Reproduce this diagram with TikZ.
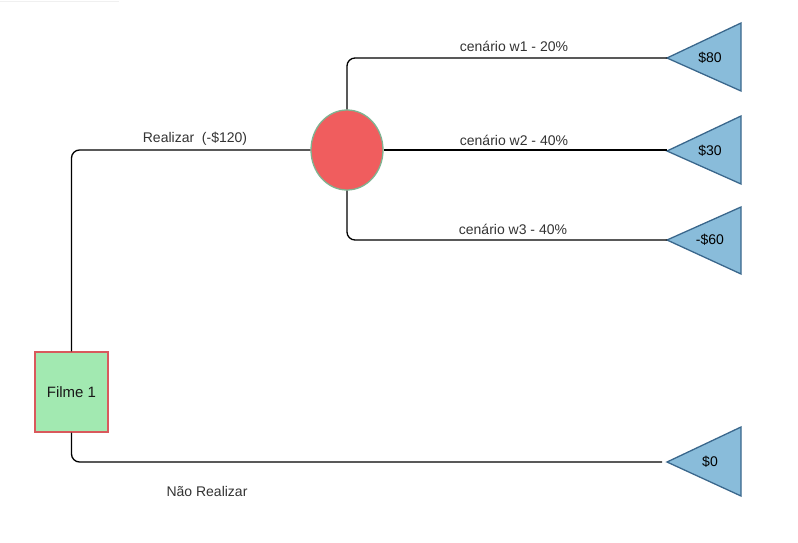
\documentclass[tikz,border=0pt]{standalone}
\usepackage{fontspec}
\setmainfont{Liberation Sans}
\usetikzlibrary{shapes.geometric}
\definecolor{sqfill}{HTML}{A2E9B1}
\definecolor{sqdraw}{HTML}{D9595C}
\definecolor{cifill}{HTML}{F05D5E}
\definecolor{cidraw}{HTML}{7FB391}
\definecolor{trfill}{HTML}{89BCDA}
\definecolor{trdraw}{HTML}{3A678C}
\definecolor{lbl}{HTML}{333333}
\begin{document}
\begin{tikzpicture}[x=1pt,y=-1pt,
  conn/.style={draw=black,line width=1.3pt,rounded corners=8pt},
  lab/.style={font=\fontsize{14}{16}\selectfont,text=lbl,inner sep=0pt},
  tri/.style={fill=trfill,draw=trdraw,line width=1.3pt,line join=miter},
  trilab/.style={font=\fontsize{14}{16}\selectfont,text=black,inner sep=0pt}]
\useasboundingbox (0,0) rectangle (798,543);
\draw[black!6,line width=1.5pt] (0,1.5) -- (119,1.5);
% decision square
\node[draw=sqdraw,fill=sqfill,line width=1.3pt,minimum width=73pt,minimum height=80pt,
  inner sep=0pt,font=\fontsize{15}{17}\selectfont,text=black!90] (f) at (71.5,392) {Filme 1};
% chance circle
\node[ellipse,draw=cidraw,fill=cifill,line width=1.3pt,minimum width=72pt,minimum height=80pt,inner sep=0pt] (c) at (347,150) {};
% terminal triangles
\foreach \n/\y/\t/\b/\txt in {t1/58/23/91/{\$80},t2/151/116/184/{\$30},t3/240/207/274/{-\$60},t4/462/427/496/{\$0}}{
  \coordinate (\n) at (667,\y);
  \draw[tri] (667,\y) -- (741,\t) -- (741,\b) -- cycle;
  \node[trilab] (\n l) at (710,\y) {\txt};
}
\coordinate (e4) at (662,462);
% connectors
\draw[conn] (f.north) |- (c.west);
\draw[conn] (c.north) |- (t1);
\draw[conn] (c.east) -- (c.east -| t2);
\draw[conn] (c.south) |- (t3);
\draw[conn] (f.south) |- (e4);
% labels
\node[lab] (l0) at (195,139) {Realizar\ \ (-\$120)};
\node[lab] (l1) at (514,46) {cenário w1 - 20\%};
\node[lab] (l2) at (514,140) {cenário w2 - 40\%};
\node[lab] (l3) at (513,229) {cenário w3 - 40\%};
\node[lab] (l4) at (207,491) {Não Realizar};
\end{tikzpicture}
\end{document}
